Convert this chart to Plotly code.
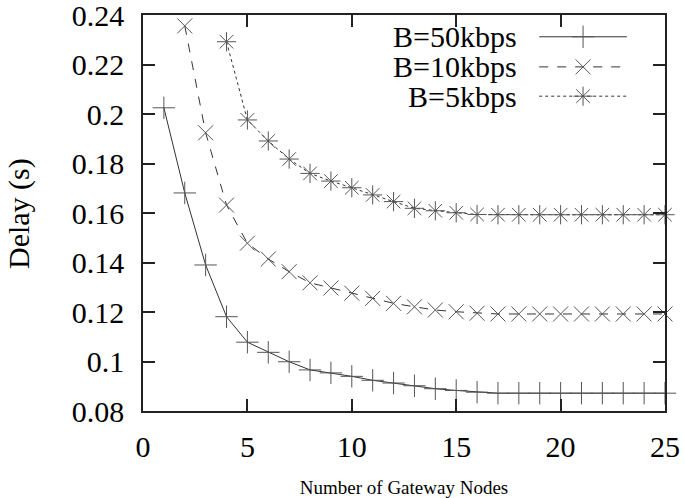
import plotly.graph_objects as go

nodes = list(range(1, 26))

labels = ["B=50kbps", "B=10kbps", "B=5kbps"]

x50 = nodes
d50 = [0.2025, 0.1681, 0.1390, 0.1181, 0.1078, 0.1037, 0.0999, 0.0966, 0.0954,
       0.0940, 0.0924, 0.0913, 0.0902, 0.0890, 0.0883, 0.0876, 0.0872, 0.0872,
       0.0872, 0.0872, 0.0872, 0.0872, 0.0872, 0.0872, 0.0872]

x10 = nodes[1:]
d10 = [0.2356, 0.1924, 0.1632, 0.1478, 0.1414, 0.1363, 0.1318, 0.1297, 0.1276,
       0.1255, 0.1235, 0.1221, 0.1208, 0.1201, 0.1195, 0.1192, 0.1192, 0.1192,
       0.1192, 0.1192, 0.1192, 0.1192, 0.1192, 0.1192]

x5 = nodes[3:]
d5 = [0.2292, 0.1976, 0.1891, 0.1818, 0.1760, 0.1729, 0.1702, 0.1673, 0.1646,
      0.1619, 0.1609, 0.1601, 0.1594, 0.1593, 0.1593, 0.1593, 0.1593, 0.1593,
      0.1593, 0.1593, 0.1593, 0.1593]

FONT = "Liberation Serif"
LC = "#333333"
MC = "#555555"

styles = [
    dict(dash="solid", symbol="cross-thin", size=16),
    dict(dash="dash", symbol="x-thin", size=15),
    dict(dash="dot", symbol="asterisk", size=16),
]

fig = go.Figure()
for xs, ys, st in zip([x50, x10, x5], [d50, d10, d5], styles):
    fig.add_trace(go.Scatter(
        x=xs, y=ys, mode="lines+markers",
        line=dict(color=LC, width=1, dash=st["dash"]),
        marker=dict(symbol=st["symbol"], size=st["size"],
                    color=MC, line=dict(color=MC, width=1)),
        showlegend=False, hoverinfo="skip", cliponaxis=False))

# custom gnuplot-style key (text left, sample right) on a hidden overlay axis
row_y = [0.945, 0.869, 0.795]
for lab, st, ry in zip(labels, styles, row_y):
    fig.add_trace(go.Scatter(
        x=[0.759, 0.927], y=[ry, ry], mode="lines",
        line=dict(color=LC, width=1, dash=st["dash"]),
        xaxis="x2", yaxis="y2", showlegend=False, hoverinfo="skip"))
    fig.add_trace(go.Scatter(
        x=[0.843], y=[ry], mode="markers",
        marker=dict(symbol=st["symbol"], size=st["size"],
                    color=MC, line=dict(color=MC, width=1)),
        xaxis="x2", yaxis="y2", showlegend=False, hoverinfo="skip"))
    fig.add_annotation(x=0.72, y=ry, xref="paper", yref="paper",
                       text=lab, showarrow=False, xanchor="right",
                       yanchor="middle",
                       font=dict(family=FONT, size=30, color="black"))

# y-axis title placed like gnuplot's (far left)
fig.add_annotation(x=-0.2375, y=0.4975, xref="paper", yref="paper",
                   text="Delay (s)", textangle=-90, showarrow=False,
                   xanchor="center", yanchor="middle",
                   font=dict(family=FONT, size=30, color="black"))

fig.update_layout(
    width=685, height=498,
    margin=dict(l=143, r=20, t=15, b=87),
    plot_bgcolor="white", paper_bgcolor="white",
    font=dict(family=FONT, size=30, color="black"),
    xaxis=dict(range=[0, 25], tickvals=[0, 5, 10, 15, 20, 25],
               ticks="inside", ticklen=12, tickwidth=1.5, tickcolor="#222",
               showline=True, linecolor="#222", linewidth=1.5, mirror="ticks",
               showgrid=False, zeroline=False, automargin=False,
               ticklabeloverflow="allow",
               tickfont=dict(family=FONT, size=30, color="black"),
               ticklabelstandoff=8,
               title=dict(text="Number of Gateway Nodes",
                          font=dict(family=FONT, size=19, color="black"),
                          standoff=26)),
    yaxis=dict(range=[0.08, 0.24],
               tickvals=[0.08, 0.1, 0.12, 0.14, 0.16, 0.18, 0.2, 0.22, 0.24],
               ticktext=["0.08", "0.1", "0.12", "0.14", "0.16", "0.18", "0.2", "0.22", "0.24"],
               ticks="inside", ticklen=12, tickwidth=1.5, tickcolor="#222",
               showline=True, linecolor="#222", linewidth=1.5, mirror="ticks",
               showgrid=False, zeroline=False, automargin=False,
               ticklabeloverflow="allow",
               tickfont=dict(family=FONT, size=30, color="black"),
               ticklabelstandoff=11),
    xaxis2=dict(overlaying="x", range=[0, 1], visible=False),
    yaxis2=dict(overlaying="y", range=[0, 1], visible=False),
)

fig.write_html("out.html", config={"displayModeBar": False},
               post_script="document.body.style.margin='0';document.body.style.overflow='hidden';")
